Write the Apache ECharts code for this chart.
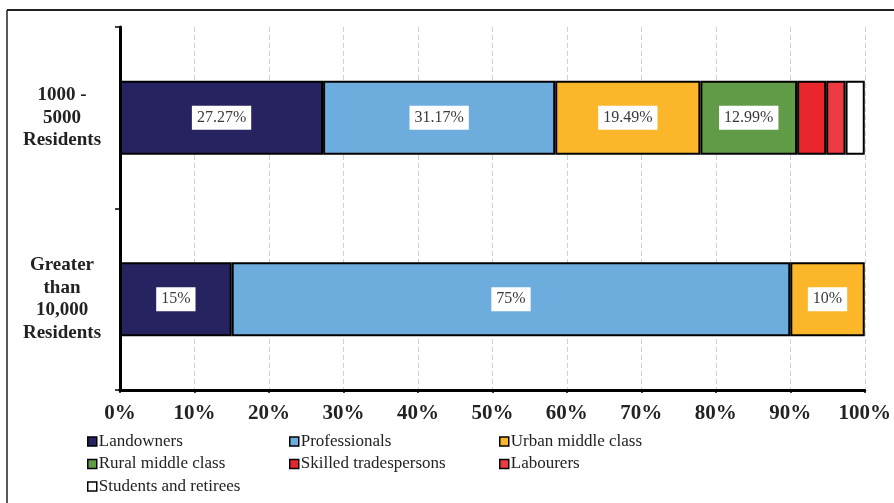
<!DOCTYPE html>
<html>
<head>
<meta charset="utf-8">
<script src="https://cdn.jsdelivr.net/npm/echarts@6/dist/echarts.min.js"></script>
<style>
  html, body { margin: 0; padding: 0; background: #ffffff; overflow: hidden; }
  #chart { width: 894px; height: 503px; }
</style>
</head>
<body>
<div id="chart"></div>
<script>
// Settlement size groups (top to bottom)
const categories = ['1000 -\n5000\nResidents', 'Greater\nthan\n10,000\nResidents'];

// Share of respondents (%) per occupation group, one value per settlement size
const landowners       = [27.27, 15];
const professionals    = [31.17, 75];
const urbanMiddleClass = [19.49, 10];
const ruralMiddleClass = [12.99, null];
const skilledTrades    = [3.90, null];
const labourers        = [2.60, null];
const studentsRetirees = [2.58, null];

const seriesNames = ['Landowners', 'Professionals', 'Urban middle class', 'Rural middle class',
                     'Skilled tradespersons', 'Labourers', 'Students and retirees'];
const seriesValues = [landowners, professionals, urbanMiddleClass, ruralMiddleClass,
                      skilledTrades, labourers, studentsRetirees];
const seriesColors = ['#272360', '#6cadde', '#fbb62a', '#629b48', '#e8262b', '#ee3a43', '#ffffff'];

// x-axis tick values (percent)
const xTickMin = 0, xTickMax = 100, xTickStep = 10;

const serif = '"Liberation Serif", "Times New Roman", serif';

const chart = echarts.init(document.getElementById('chart'));

const series = seriesNames.map((name, i) => ({
  name: name,
  type: 'bar',
  stack: 'total',
  barWidth: 74,
  itemStyle: { color: seriesColors[i], borderColor: '#000', borderWidth: 2 },
  label: {
    show: true,
    position: 'inside',
    formatter: p => p.value + '%',
    fontFamily: serif,
    fontSize: 16,
    lineHeight: 16,
    color: '#3a3a3a',
    backgroundColor: '#ffffff',
    padding: [4, 5, 4, 5]
  },
  emphasis: { disabled: true },
  data: seriesValues[i].map(v => (v == null ? '-' : { value: v, label: { show: v >= 5 } }))
}));

const legendBase = {
  orient: 'vertical',
  top: 433,
  padding: 0,
  itemGap: 5.5,
  itemWidth: 9,
  itemHeight: 9,
  icon: 'rect',
  textStyle: { fontFamily: serif, fontSize: 17, color: '#222', padding: [0, 0, 0, -3] },
  itemStyle: { borderColor: '#000', borderWidth: 1.5 },
  selectedMode: false
};

chart.setOption({
  animation: false,
  backgroundColor: '#ffffff',
  grid: { left: 120, right: 27, top: 27, bottom: 113, containLabel: false },
  xAxis: {
    type: 'value',
    min: xTickMin,
    max: xTickMax,
    interval: xTickStep,
    axisLine: { show: true, lineStyle: { color: '#000', width: 3 } },
    axisTick: { show: true, length: 3, lineStyle: { color: '#000', width: 1.5 } },
    splitLine: { show: true, lineStyle: { color: '#d0d0d0', width: 1, type: [5, 3] } },
    axisLabel: {
      formatter: '{value}%',
      fontFamily: serif,
      fontWeight: 'bold',
      fontSize: 21,
      color: '#222',
      margin: 13
    }
  },
  yAxis: {
    type: 'category',
    inverse: true,
    data: categories,
    axisLine: { show: true, lineStyle: { color: '#000', width: 3 } },
    axisTick: { show: true, length: 5, lineStyle: { color: '#000', width: 1.5 } },
    splitLine: { show: false },
    axisLabel: {
      fontFamily: serif,
      fontWeight: 'bold',
      fontSize: 19,
      lineHeight: 22.5,
      color: '#222',
      align: 'center',
      margin: 58
    }
  },
  legend: [
    Object.assign({}, legendBase, { left: 87, data: ['Landowners', 'Rural middle class', 'Students and retirees'] }),
    Object.assign({}, legendBase, { left: 289, data: ['Professionals', 'Skilled tradespersons'] }),
    Object.assign({}, legendBase, { left: 499, data: ['Urban middle class', 'Labourers'] })
  ],
  graphic: [
    // outer frame edges
    { type: 'line', shape: { x1: 7, y1: 10, x2: 894, y2: 10 }, style: { stroke: '#222', lineWidth: 2 } },
    { type: 'line', shape: { x1: 7, y1: 10, x2: 7, y2: 503 }, style: { stroke: '#222', lineWidth: 1.5 } }
  ],
  series: series
});
</script>
</body>
</html>
